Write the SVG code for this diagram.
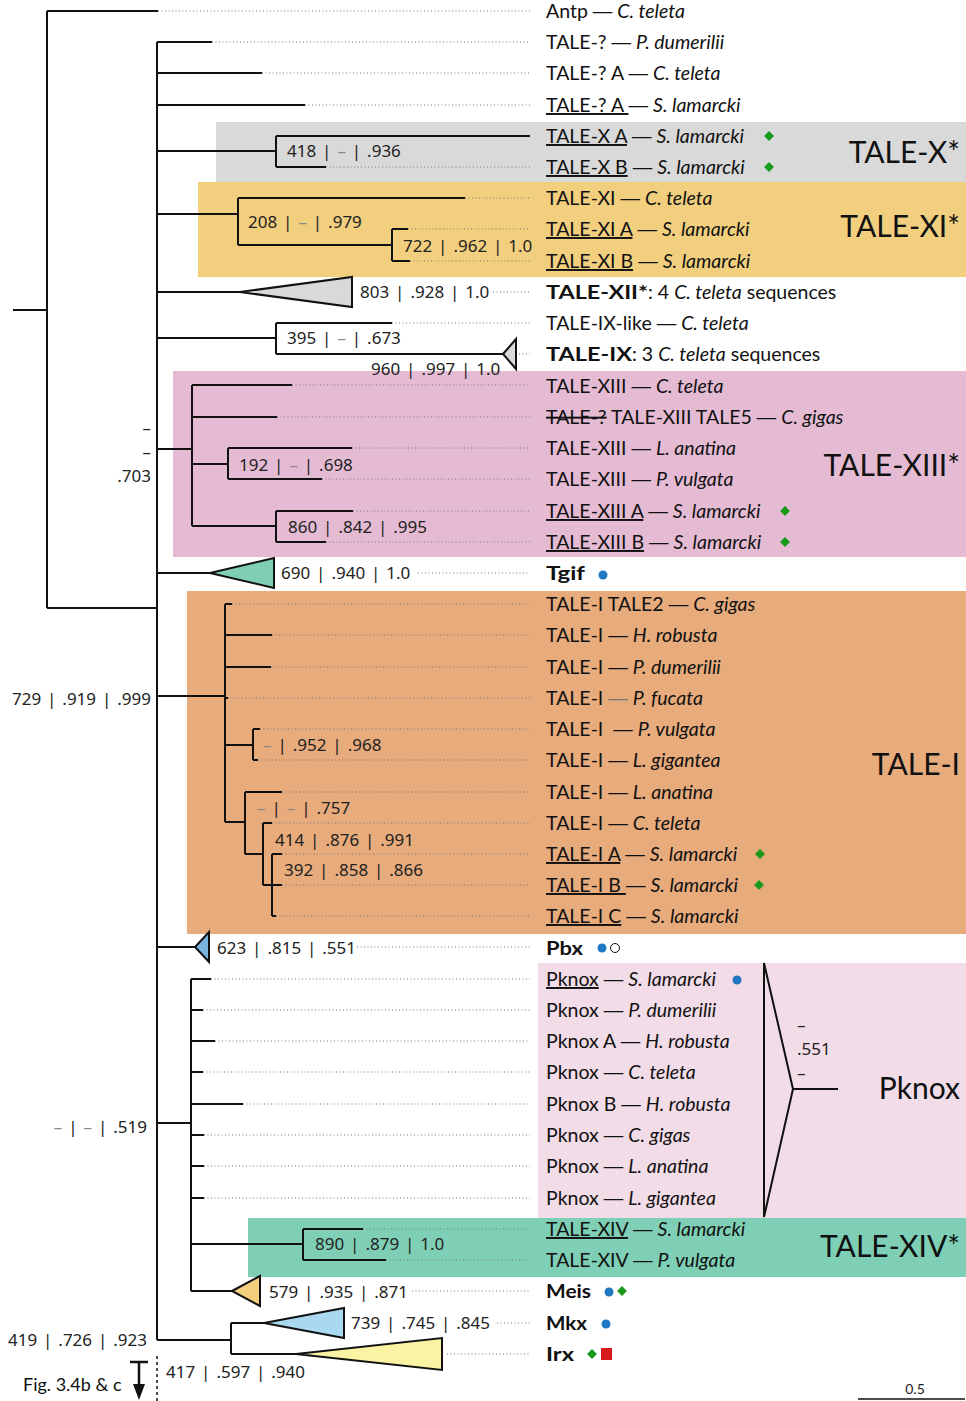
<svg xmlns="http://www.w3.org/2000/svg" width="966" height="1401" viewBox="0 0 966 1401">
<style>
.t{font-family:Lato,"Open Sans",sans-serif;font-size:19.5px;fill:#111}
.i{font-style:italic}
.b{font-weight:bold}
.u{text-decoration:underline}
.k{text-decoration:line-through}
.g{fill:#888}
.d{font-family:"Liberation Sans",sans-serif}
.v{font-family:"Noto Sans","DejaVu Sans",sans-serif;font-size:17px;fill:#222;word-spacing:1.5px}
.e{text-anchor:end}
.grp{font-family:Lato,"Open Sans",sans-serif;font-size:30px;fill:#111;text-anchor:end}
.tree{fill:none;stroke:#111;stroke-width:2}
.dot{fill:none;stroke:#777;stroke-width:1;stroke-dasharray:1 2.5}
.dia{fill:#1a9a1a}
.blu{fill:#1f78c1}
</style>
<g id="backgrounds">
<rect x="216" y="122" width="750" height="60" fill="#d9d9d9"/>
<rect x="198" y="182" width="768" height="95" fill="#f2cf7f"/>
<rect x="173" y="371" width="793" height="186" fill="#e5bbd3"/>
<rect x="187" y="591" width="779" height="343" fill="#e7ab7c"/>
<rect x="538" y="963" width="428" height="255" fill="#f2dce8"/>
<rect x="248" y="1218" width="718" height="59" fill="#7fcfb6"/>
</g>
<g id="connectors">
<path class="tree" d="M13,310H47M47,11V608M47,11H158M47,608H157M157,42V1340M157,42H212M157,73H262M157,105H305"/>
<path class="tree" d="M157,151H276M276,136V167M276,136H530M276,167H326"/>
<path class="tree" d="M157,214H238M238,198V245M238,198H465M238,245H392M392,229V261M392,229H408M392,261H410"/>
<path class="tree" d="M157,292H240M157,338H276M276,323V354M276,323H392M276,354H503"/>
<path class="tree" d="M157,449H192M192,385V526M192,385H292M192,417H277M192,464H228M228,448V479M228,448H352M228,479H322M192,526H276M276,511V542M276,511H353M276,542H326"/>
<path class="tree" d="M157,573H210"/>
<path class="tree" d="M157,696H225M225,604V822M225,604H232M225,635H272M225,667H271M225,698H228M225,745H253M253,729V760M253,729H260M253,760H258M225,822H245M245,792V854M245,792H282M245,854H263M263,823V885M263,823H272M263,885H282M272,854V916M272,854H282M272,916H276"/>
<path class="tree" d="M157,947H195"/>
<path class="tree" d="M157,1123H191M191,979V1291M191,979H211M191,1010H203M191,1041H215M191,1072H203M191,1104H243M191,1135H204M191,1166H204M191,1198H204M191,1244H303M303,1229V1260M303,1229H363M303,1260H386M191,1291H232"/>
<path class="tree" d="M157,1340H231M231,1323V1354M231,1323H264M231,1354H296"/>
<path d="M157,1356V1401" fill="none" stroke="#111" stroke-width="1.5" stroke-dasharray="3 3"/>
<path class="dot" d="M158,11H530M212,42H530M262,73H530M305,105H530M326,167H530M465,198H530M408,229H530M410,261H530M493,292H530M392,323H530M519,354H530M292,385H530M277,417H530M352,448H530M322,479H530M353,511H530M326,542H530M418,573H530M232,604H530M272,635H530M271,667H530M228,698H530M260,729H530M258,760H530M282,792H530M272,823H530M282,854H530M282,885H530M276,916H530M357,947H530M211,979H530M203,1010H530M215,1041H530M203,1072H530M243,1104H530M204,1135H530M204,1166H530M204,1198H530M363,1229H530M386,1260H530M412,1291H530M497,1323H530M447,1354H530"/>
</g>
<g id="collapsed">
<polygon points="240,292 352,277 352,307" fill="#d9d9d9" stroke="#111" stroke-width="2"/>
<polygon points="503,354 516,339 516,369" fill="#d9d9d9" stroke="#111" stroke-width="2"/>
<polygon points="210,573 274,558 274,588" fill="#7fcfb6" stroke="#111" stroke-width="2"/>
<polygon points="195,947 209,932 209,962" fill="#7ab3dc" stroke="#111" stroke-width="2"/>
<polygon points="232,1291 260,1276 260,1306" fill="#f4cf7e" stroke="#111" stroke-width="2"/>
<polygon points="264,1323 344,1308 344,1338" fill="#a9d8f1" stroke="#111" stroke-width="2"/>
<polygon points="296,1354 442,1338 442,1370" fill="#f9f3a3" stroke="#111" stroke-width="2"/>
<polygon points="764,963 793,1089 764,1217" fill="none" stroke="#111" stroke-width="2"/>
<path d="M793,1089H838" stroke="#111" stroke-width="2"/>
</g>
<g id="support">
<text class="v" x="287" y="157">418 | <tspan class="g">–</tspan> | .936</text>
<text class="v" x="248" y="228">208 | <tspan class="g">–</tspan> | .979</text>
<text class="v" x="403" y="252">722 | .962 | 1.0</text>
<text class="v" x="360" y="298">803 | .928 | 1.0</text>
<text class="v" x="287" y="344">395 | <tspan class="g">–</tspan> | .673</text>
<text class="v" x="371" y="375">960 | .997 | 1.0</text>
<text class="v" x="239" y="471">192 | <tspan class="g">–</tspan> | .698</text>
<text class="v" x="288" y="533">860 | .842 | .995</text>
<text class="v" x="281" y="579">690 | .940 | 1.0</text>
<text class="v e" x="151" y="705">729 | .919 | .999</text>
<text class="v" x="263" y="751"><tspan class="g">–</tspan> | .952 | .968</text>
<text class="v" x="257" y="814"><tspan class="g">–</tspan> | <tspan class="g">–</tspan> | .757</text>
<text class="v" x="275" y="846">414 | .876 | .991</text>
<text class="v" x="284" y="876">392 | .858 | .866</text>
<text class="v" x="217" y="954">623 | .815 | .551</text>
<text class="v e" x="147" y="1133"><tspan class="g">–</tspan> | <tspan class="g">–</tspan> | .519</text>
<text class="v" x="315" y="1250">890 | .879 | 1.0</text>
<text class="v" x="269" y="1298">579 | .935 | .871</text>
<text class="v" x="351" y="1329">739 | .745 | .845</text>
<text class="v e" x="147" y="1346">419 | .726 | .923</text>
<text class="v" x="166" y="1378">417 | .597 | .940</text>
<text class="v e g" x="151" y="434">–</text>
<text class="v e g" x="151" y="458">–</text>
<text class="v e" x="151" y="482">.703</text>
<text class="v g" x="797" y="1031">–</text>
<text class="v" x="797" y="1055">.551</text>
<text class="v g" x="797" y="1079">–</text>
</g>
<g id="labels">
<text class="t" x="546" y="18">Antp <tspan class="d">—</tspan> <tspan class="i">C. teleta</tspan></text>
<text class="t" x="546" y="49">TALE-? <tspan class="d">—</tspan> <tspan class="i">P. dumerilii</tspan></text>
<text class="t" x="546" y="80">TALE-? A <tspan class="d">—</tspan> <tspan class="i">C. teleta</tspan></text>
<text class="t" x="546" y="112" xml:space="preserve"><tspan class="u">TALE-? A </tspan><tspan class="d">—</tspan> <tspan class="i">S. lamarcki</tspan></text>
<text class="t" x="546" y="143"><tspan class="u">TALE-X A</tspan> <tspan class="d">—</tspan> <tspan class="i">S. lamarcki</tspan></text>
<text class="t" x="546" y="174"><tspan class="u">TALE-X B</tspan> <tspan class="d">—</tspan> <tspan class="i">S. lamarcki</tspan></text>
<text class="t" x="546" y="205">TALE-XI <tspan class="d">—</tspan> <tspan class="i">C. teleta</tspan></text>
<text class="t" x="546" y="236"><tspan class="u">TALE-XI A</tspan> <tspan class="d">—</tspan> <tspan class="i">S. lamarcki</tspan></text>
<text class="t" x="546" y="268"><tspan class="u">TALE-XI B</tspan> <tspan class="d">—</tspan> <tspan class="i">S. lamarcki</tspan></text>
<text class="t" x="546" y="299"><tspan class="b" textLength="102" lengthAdjust="spacingAndGlyphs">TALE-XII*</tspan>: 4 <tspan class="i">C. teleta</tspan> sequences</text>
<text class="t" x="546" y="330">TALE-IX-like <tspan class="d">—</tspan> <tspan class="i">C. teleta</tspan></text>
<text class="t" x="546" y="361"><tspan class="b" textLength="86" lengthAdjust="spacingAndGlyphs">TALE-IX</tspan>: 3 <tspan class="i">C. teleta</tspan> sequences</text>
<text class="t" x="546" y="393">TALE-XIII <tspan class="d">—</tspan> <tspan class="i">C. teleta</tspan></text>
<text class="t" x="546" y="424"><tspan class="k">TALE-?</tspan> TALE-XIII TALE5 <tspan class="d">—</tspan> <tspan class="i">C. gigas</tspan></text>
<text class="t" x="546" y="455">TALE-XIII <tspan class="d">—</tspan> <tspan class="i">L. anatina</tspan></text>
<text class="t" x="546" y="486">TALE-XIII <tspan class="d">—</tspan> <tspan class="i">P. vulgata</tspan></text>
<text class="t" x="546" y="518"><tspan class="u">TALE-XIII A</tspan> <tspan class="d">—</tspan> <tspan class="i">S. lamarcki</tspan></text>
<text class="t" x="546" y="549"><tspan class="u">TALE-XIII B</tspan> <tspan class="d">—</tspan> <tspan class="i">S. lamarcki</tspan></text>
<text class="t b" x="546" y="580" textLength="39" lengthAdjust="spacingAndGlyphs">Tgif</text>
<text class="t" x="546" y="611">TALE-I TALE2 <tspan class="d">—</tspan> <tspan class="i">C. gigas</tspan></text>
<text class="t" x="546" y="642">TALE-I <tspan class="d">—</tspan> <tspan class="i">H. robusta</tspan></text>
<text class="t" x="546" y="674">TALE-I <tspan class="d">—</tspan> <tspan class="i">P. dumerilii</tspan></text>
<text class="t" x="546" y="705">TALE-I <tspan class="d" fill="#777">—</tspan> <tspan class="i">P. fucata</tspan></text>
<text class="t" x="546" y="736" xml:space="preserve">TALE-I  <tspan class="d">—</tspan> <tspan class="i">P. vulgata</tspan></text>
<text class="t" x="546" y="767">TALE-I <tspan class="d">—</tspan> <tspan class="i">L. gigantea</tspan></text>
<text class="t" x="546" y="799">TALE-I <tspan class="d">—</tspan> <tspan class="i">L. anatina</tspan></text>
<text class="t" x="546" y="830">TALE-I <tspan class="d">—</tspan> <tspan class="i">C. teleta</tspan></text>
<text class="t" x="546" y="861"><tspan class="u">TALE-I A</tspan> <tspan class="d">—</tspan> <tspan class="i">S. lamarcki</tspan></text>
<text class="t" x="546" y="892" xml:space="preserve"><tspan class="u">TALE-I B </tspan><tspan class="d">—</tspan> <tspan class="i">S. lamarcki</tspan></text>
<text class="t" x="546" y="923"><tspan class="u">TALE-I C</tspan> <tspan class="d">—</tspan> <tspan class="i">S. lamarcki</tspan></text>
<text class="t b" x="546" y="955" textLength="37" lengthAdjust="spacingAndGlyphs">Pbx</text>
<text class="t" x="546" y="986"><tspan class="u">Pknox</tspan> <tspan class="d">—</tspan> <tspan class="i">S. lamarcki</tspan></text>
<text class="t" x="546" y="1017">Pknox <tspan class="d">—</tspan> <tspan class="i">P. dumerilii</tspan></text>
<text class="t" x="546" y="1048">Pknox A <tspan class="d">—</tspan> <tspan class="i">H. robusta</tspan></text>
<text class="t" x="546" y="1079">Pknox <tspan class="d">—</tspan> <tspan class="i">C. teleta</tspan></text>
<text class="t" x="546" y="1111">Pknox B <tspan class="d">—</tspan> <tspan class="i">H. robusta</tspan></text>
<text class="t" x="546" y="1142">Pknox <tspan class="d">—</tspan> <tspan class="i">C. gigas</tspan></text>
<text class="t" x="546" y="1173">Pknox <tspan class="d">—</tspan> <tspan class="i">L. anatina</tspan></text>
<text class="t" x="546" y="1205">Pknox <tspan class="d">—</tspan> <tspan class="i">L. gigantea</tspan></text>
<text class="t" x="546" y="1236"><tspan class="u">TALE-XIV</tspan> <tspan class="d">—</tspan> <tspan class="i">S. lamarcki</tspan></text>
<text class="t" x="546" y="1267">TALE-XIV <tspan class="d">—</tspan> <tspan class="i">P. vulgata</tspan></text>
<text class="t b" x="546" y="1298" textLength="45" lengthAdjust="spacingAndGlyphs">Meis</text>
<text class="t b" x="546" y="1330" textLength="41" lengthAdjust="spacingAndGlyphs">Mkx</text>
<text class="t b" x="546" y="1361" textLength="28" lengthAdjust="spacingAndGlyphs">Irx</text>
</g>
<g id="markers">
<rect class="dia" x="-3.5" y="-3.5" width="7" height="7" transform="translate(769,136) rotate(45)"/>
<rect class="dia" x="-3.5" y="-3.5" width="7" height="7" transform="translate(769,167) rotate(45)"/>
<rect class="dia" x="-3.5" y="-3.5" width="7" height="7" transform="translate(785,511) rotate(45)"/>
<rect class="dia" x="-3.5" y="-3.5" width="7" height="7" transform="translate(785,542) rotate(45)"/>
<rect class="dia" x="-3.5" y="-3.5" width="7" height="7" transform="translate(760,854) rotate(45)"/>
<rect class="dia" x="-3.5" y="-3.5" width="7" height="7" transform="translate(759,885) rotate(45)"/>
<circle class="blu" cx="603" cy="575" r="4.5"/>
<circle class="blu" cx="602" cy="948" r="4.5"/>
<circle cx="615" cy="948" r="4.5" fill="#fff" stroke="#111" stroke-width="1"/>
<circle class="blu" cx="737" cy="980" r="4.5"/>
<circle class="blu" cx="609" cy="1292" r="4.5"/>
<rect class="dia" x="-3.5" y="-3.5" width="7" height="7" transform="translate(622,1291) rotate(45)"/>
<circle class="blu" cx="606" cy="1324" r="4.5"/>
<rect class="dia" x="-3.5" y="-3.5" width="7" height="7" transform="translate(592,1354) rotate(45)"/>
<rect x="601" y="1348" width="11" height="12" fill="#d7191c"/>
</g>
<g id="group-labels">
<text class="grp" x="960" y="163">TALE-X*</text>
<text class="grp" x="960" y="237">TALE-XI*</text>
<text class="grp" x="960" y="476">TALE-XIII*</text>
<text class="grp" x="960" y="775">TALE-I</text>
<text class="grp" x="960" y="1099">Pknox</text>
<text class="grp" x="960" y="1257">TALE-XIV*</text>
</g>
<g id="legend">
<text class="t" x="23" y="1391" style="font-size:18px">Fig. 3.4b &amp; c</text>
<path d="M130,1362H148M139,1362V1386" stroke="#111" stroke-width="2.5" fill="none"/>
<polygon points="133,1384 145,1384 139,1400" fill="#111"/>
<path d="M858,1399H965" stroke="#111" stroke-width="1.5"/>
<text x="915" y="1394" font-family="Lato,sans-serif" font-size="14" text-anchor="middle" fill="#222">0.5</text>
</g>
</svg>
